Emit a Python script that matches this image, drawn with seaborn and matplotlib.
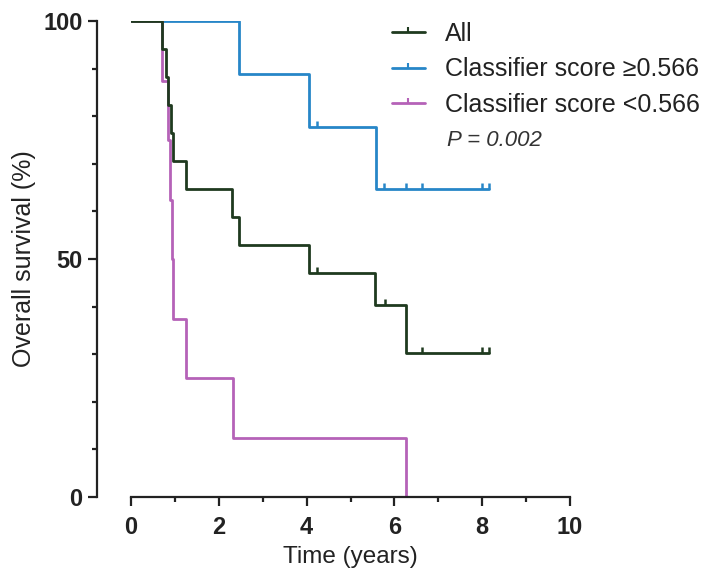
import numpy as np
import matplotlib
matplotlib.use('Agg')
import matplotlib.pyplot as plt
from matplotlib.lines import Line2D
from matplotlib.path import Path
from matplotlib.ticker import MultipleLocator
import seaborn as sns


# Kaplan-Meier steps (time in years, survival in %)
all_t = [0, 0.70, 0.80, 0.85, 0.90, 0.95, 1.25, 2.29, 2.47, 4.06, 5.56, 6.26, 8.16]
all_s = [100, 94.1, 88.2, 82.4, 76.5, 70.6, 64.7, 58.8, 52.9, 47.1, 40.3, 30.2, 30.2]
all_cens = [4.24, 5.78, 6.63, 7.99, 8.16]

hi_t = [0, 2.45, 4.06, 5.57, 8.16]
hi_s = [100, 88.9, 77.8, 64.8, 64.8]
hi_cens = [4.24, 5.76, 6.26, 6.63, 7.99, 8.16]

lo_t = [0, 0.70, 0.85, 0.89, 0.93, 0.96, 1.25, 2.32, 6.26]
lo_s = [100, 87.5, 75, 62.5, 50, 37.5, 25, 12.5, 0]
lo_cens = []

labels = ['All', 'Classifier score \u22650.566', 'Classifier score <0.566']
colors = ['#1f3a1f', '#2786c8', '#b562b8']
p_text = 'P = 0.002'

sns.set_theme(style='ticks')
plt.rcParams['font.family'] = ['Liberation Sans', 'DejaVu Sans']

# upward censor tick
tick_mark = Path([(0, 0), (0, 1)], [Path.MOVETO, Path.LINETO])


def step_at(t, times, surv):
    idx = np.searchsorted(times, t, side='right') - 1
    return np.asarray(surv)[idx]


fig = plt.figure(figsize=(7.19, 5.72), dpi=100)
ax = fig.add_axes([131 / 719, 1 - 497 / 572, (570 - 131) / 719, (497 - 21) / 572])

groups = [
    (hi_t, hi_s, hi_cens, colors[1]),
    (lo_t, lo_s, lo_cens, colors[2]),
    (all_t, all_s, all_cens, colors[0]),
]
for times, surv, cens, col in groups:
    sns.lineplot(x=times, y=surv, drawstyle='steps-post', estimator=None,
                 color=col, lw=2.0, ax=ax)
    if cens:
        ax.plot(cens, step_at(cens, times, surv), linestyle='none',
                marker=tick_mark, ms=9, mew=1.8, color=col)

ax.set_xlim(0, 10)
ax.set_ylim(0, 100)
ax.xaxis.set_major_locator(MultipleLocator(2))
ax.xaxis.set_minor_locator(MultipleLocator(1))
ax.yaxis.set_major_locator(MultipleLocator(50))
ax.yaxis.set_minor_locator(MultipleLocator(10))

sns.despine(ax=ax)
ax.spines['left'].set_position(('outward', 24.5))
for side in ['left', 'bottom']:
    ax.spines[side].set_linewidth(1.6)
    ax.spines[side].set_color('#222222')

ax.tick_params(which='major', length=6.5, width=1.6, color='#222222',
               labelsize=17, pad=4, labelcolor='#222222')
ax.tick_params(axis='x', which='major', pad=7)
ax.tick_params(which='minor', length=3.5, width=1.6, color='#222222')
for lab in ax.get_xticklabels() + ax.get_yticklabels():
    lab.set_fontweight('bold')

ax.set_xlabel('Time (years)', fontsize=17.5, labelpad=5, color='#222222')
ax.set_ylabel('Overall survival (%)', fontsize=18, labelpad=5, color='#222222')

handles = [Line2D([], [], color=c, lw=2.0, marker=tick_mark, ms=7, mew=1.5)
           for c in colors]
ax.legend(handles, labels, loc='upper left', bbox_to_anchor=(392 / 719, 1 - 22 / 572),
          bbox_transform=fig.transFigure, frameon=False, fontsize=18,
          handlelength=1.3, handletextpad=0.8, labelspacing=0.45,
          borderaxespad=0, borderpad=0, numpoints=1, labelcolor='#222222')
fig.text(447 / 719, 1 - 140 / 572, p_text, style='italic',
         fontsize=16, va='center', color='#333333')

fig.savefig('out.png', dpi=100)
